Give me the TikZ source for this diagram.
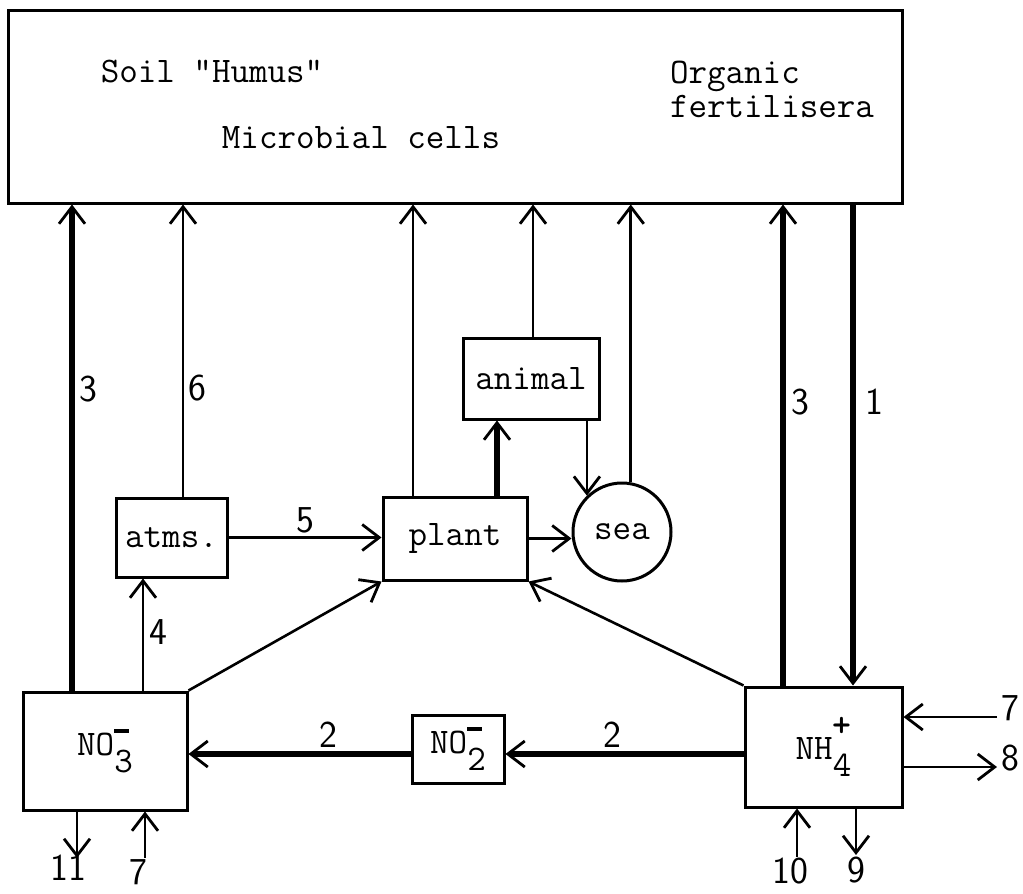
\documentclass[tikz,border=0pt]{standalone}
\usepackage{fontspec}
\usetikzlibrary{positioning,arrows.meta}

% charge above, count below the formula
\newcommand{\ionlbl}[2]{\rlap{\raisebox{0.62em}{#2}}\raisebox{-0.48em}{#1}}
\newcommand{\chgminus}{\rule{0.42em}{0.1em}}
\newcommand{\chgplus}{\textbf{+}}

\begin{document}
\begin{tikzpicture}[
  x=1pt, y=-1pt,
  font=\fontsize{36}{40}\selectfont\ttfamily,
  box/.style={draw, line width=3pt, inner sep=0pt, align=center},
  pool/.style={box, circle},
  num/.style={font=\fontsize{38}{40}\selectfont\sffamily, inner sep=1pt},
  arr/.style={-{Straight Barb[length=17pt,width=26pt,line width=2.8pt]}, line width=2.6pt},
  heavy/.style={arr, line width=5.4pt},
]
\useasboundingbox (0,0) rectangle (1023,894);

% soil pool (top)
\node[box, minimum width=894pt, minimum height=193pt] (soil) at (455,106.5) {};
\node (humus) at (212,72) {Soil "Humus"};
\node[align=left, font=\fontsize{36}{34}\selectfont\ttfamily] (orgfert) at (772,89) {Organic\\fertilisera};
\node (micro) at (361,138) {Microbial cells};

% middle pools
\node[box, minimum width=111pt, minimum height=79pt] (atms) at (171.5,537.5) {atms.};
\node[box, minimum width=144pt, minimum height=83pt] (plant) at (455,538.5) {plant};
\node[box, minimum width=136pt, minimum height=81pt] (animal) at (531,378.5) {animal};
\node[pool, minimum size=98pt] (sea) at (622,532) {sea};

% mineral pools
\node[box, minimum width=164pt, minimum height=118pt] (no3) at (105,751) {NO\ionlbl{3}{\chgminus}};
\node[box, minimum width=92pt, minimum height=68pt] (no2) at (458,749) {NO\ionlbl{2}{\chgminus}};
\node[box, minimum width=157pt, minimum height=120pt] (nh4) at (823.5,747) {NH\ionlbl{4}{\chgplus}};

% free ends
\coordinate (in7r) at (997,717);
\coordinate (out8) at (997,767);
\coordinate (in10) at (797,857);
\coordinate (out9) at (856,855);
\coordinate (out11) at (77,858);
\coordinate (in7l) at (145,858);

% flows up to the soil pool
\draw[heavy] (no3.north -| 72,0) -- node[num, right=4pt, pos=0.62] (l3a) {3} (soil.south -| 72,0);
\draw[arr] (atms.north -| 183,0) -- node[num, right=3pt, pos=0.37] (l6) {6} (soil.south -| 183,0);
\draw[arr] (plant.north -| 413,0) -- (soil.south -| 413,0);
\draw[arr] (animal.north -| 533,0) -- (soil.south -| 533,0);
\draw[arr] (sea.80) -- (soil.south -| sea.80);
\draw[heavy] (nh4.north -| 783,0) -- node[num, right=5pt, pos=0.59] (l3b) {3} (soil.south -| 783,0);
\draw[heavy] (soil.south -| 853,0) -- node[num, right=9pt, pos=0.41] (l1) {1} (nh4.north -| 853,0);

% flows between pools
\draw[arr] (no3.north -| 143,0) -- node[num, right=4pt, pos=0.52] (l4) {4} (atms.south -| 143,0);
\draw[arr] (atms.east) -- node[num, above=2pt, pos=0.5] (l5) {5} (plant.west |- atms.east);
\draw[arr] (plant.east) -- (sea.west |- plant.east);
\draw[heavy] (plant.north -| 497,0) -- (animal.south -| 497,0);
\draw[arr] (animal.south -| sea.134) -- (sea.134);
\draw[arr] (no3.north east) -- (plant.south west);
\draw[arr] (nh4.north west) -- (plant.south east);
\draw[heavy] (nh4.west |- 0,754) -- node[num, above=3pt, pos=0.55] (l2b) {2} (no2.east |- 0,754);
\draw[heavy] (no2.west |- 0,754) -- node[num, above=3pt, pos=0.37] (l2a) {2} (no3.east |- 0,754);

% inputs and losses
\draw[arr] (in7r) -- (nh4.east |- in7r);
\node[num, right=3pt of in7r, yshift=9pt] (l7r) {7};
\draw[arr] (nh4.east |- out8) -- (out8);
\node[num, right=3pt of out8, yshift=9pt] (l8) {8};
\draw[arr] (in10) -- (nh4.south -| in10);
\node[num, below=0pt of in10, xshift=-7pt] (l10) {10};
\draw[arr] (nh4.south -| out9) -- (out9);
\node[num, below=1pt of out9] (l9) {9};
\draw[arr] (no3.south -| out11) -- (out11);
\node[num, below=-4pt of out11, xshift=-9pt] (l11) {11};
\draw[arr] (in7l) -- (no3.south -| in7l);
\node[num, below=0pt of in7l, xshift=-7pt] (l7l) {7};
\end{tikzpicture}
\end{document}
